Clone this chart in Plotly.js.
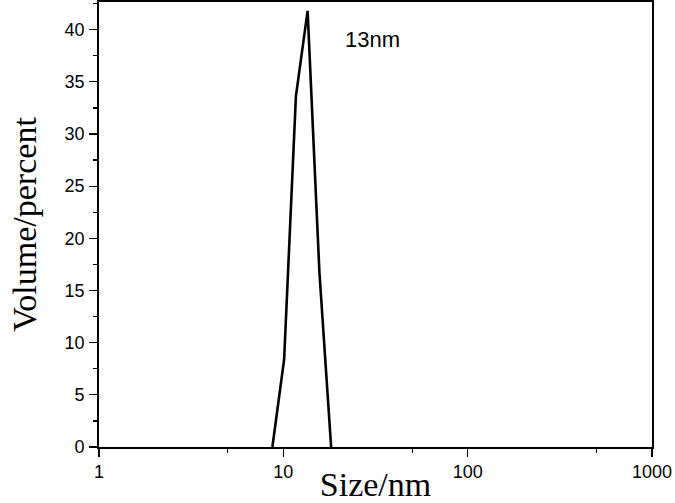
<!DOCTYPE html>
<html>
<head>
<meta charset="utf-8">
<script src="https://cdn.plot.ly/plotly-3.0.1.min.js"></script>
<style>html,body{margin:0;padding:0;background:#fff;}#chart{width:675px;height:503px;}</style>
</head>
<body>
<div id="chart"></div>
<script>
var sizeNm = [8.721, 10.10, 11.70, 13.54, 15.69, 18.17];
var volumePercent = [0, 8.4, 33.6, 41.8, 16.8, 0];
var peakLabel = "13nm";
var xTickVals = [1, 10, 100, 1000];
var xTickText = ["1", "10", "100", "1000"];

var trace = {
  x: sizeNm, y: volumePercent, type: 'scatter', mode: 'lines',
  line: {color: '#000', width: 2.6}, hoverinfo: 'none'
};
var layout = {
  width: 675, height: 503,
  margin: {l: 99, r: 23, t: 2, b: 56},
  paper_bgcolor: '#fff', plot_bgcolor: '#fff',
  showlegend: false,
  xaxis: {
    type: 'log', range: [0, 3],
    tickvals: xTickVals, ticktext: xTickText,
    ticks: 'outside', ticklen: 8, tickwidth: 1.3, tickcolor: '#000',
    minor: {tickvals: [5, 50, 500], ticks: 'outside', ticklen: 4, tickwidth: 1.3, tickcolor: '#000'},
    showline: true, linecolor: '#000', linewidth: 1.8, mirror: true,
    showgrid: false, zeroline: false,
    tickfont: {family: 'Liberation Sans, Arial, sans-serif', size: 18, color: '#000'},
    title: {text: 'Size/nm', font: {family: 'Liberation Serif, Times New Roman, serif', size: 34, color: '#000'}, standoff: 2}
  },
  yaxis: {
    range: [0, 42.65],
    tickvals: [0, 5, 10, 15, 20, 25, 30, 35, 40],
    ticks: 'outside', ticklen: 8, tickwidth: 1.3, tickcolor: '#000',
    minor: {dtick: 2.5, ticks: 'outside', ticklen: 4, tickwidth: 1.3, tickcolor: '#000'},
    ticklabelstandoff: 1,
    showline: true, linecolor: '#000', linewidth: 1.8, mirror: true,
    showgrid: false, zeroline: false,
    tickfont: {family: 'Liberation Sans, Arial, sans-serif', size: 18, color: '#000'},
    title: {text: 'Volume/percent', font: {family: 'Liberation Serif, Times New Roman, serif', size: 34, color: '#000'}, standoff: 18}
  },
  annotations: [{
    x: Math.log10(21.1), y: 39.1, xref: 'x', yref: 'y',
    text: peakLabel, showarrow: false, xanchor: 'left', yanchor: 'middle',
    font: {family: 'Liberation Sans, Arial, sans-serif', size: 22, color: '#000'}
  }]
};
Plotly.newPlot('chart', [trace], layout, {staticPlot: true});
</script>
</body>
</html>
